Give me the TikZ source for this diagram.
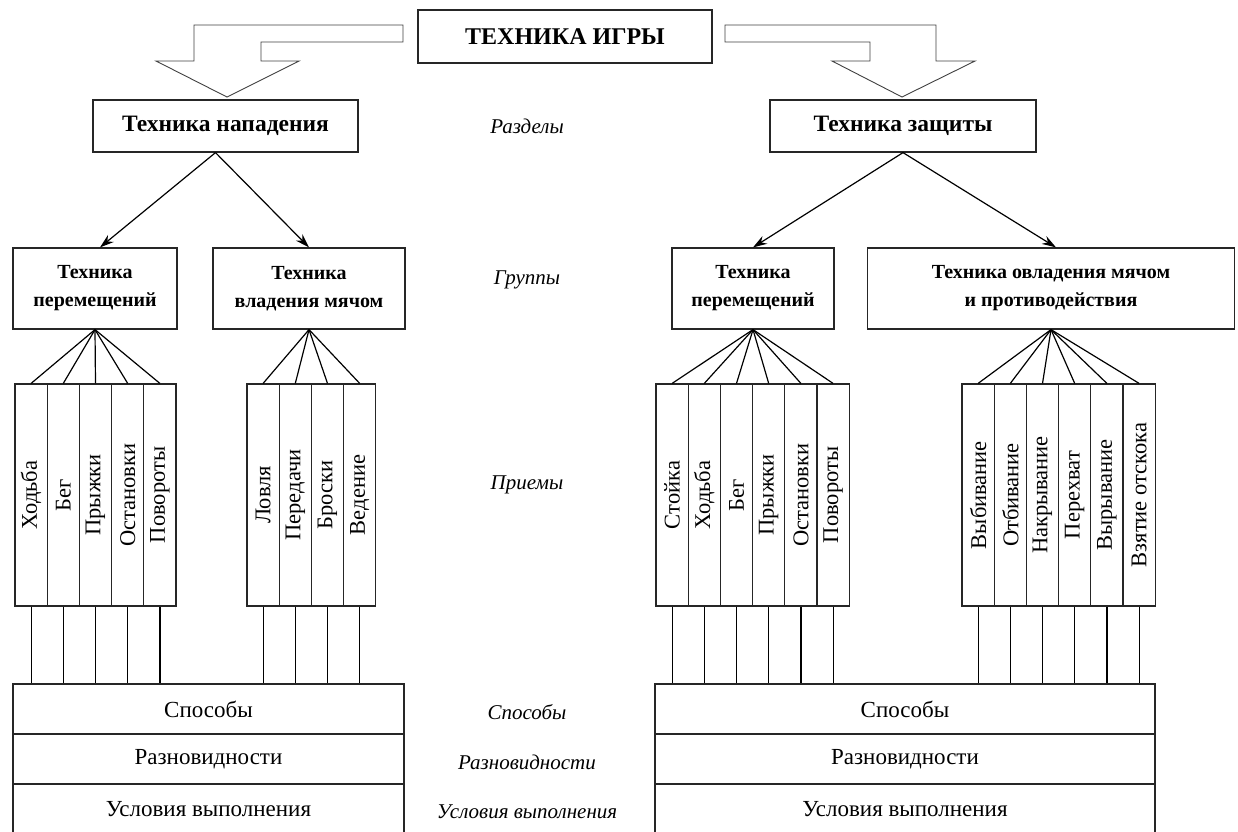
\documentclass[tikz,border=0pt]{standalone}
\usepackage{fontspec}
\setmainfont{Liberation Serif}
\usetikzlibrary{arrows.meta}

\begin{document}
\begin{tikzpicture}[>={Stealth[length=14pt,width=9pt]},x=1pt,y=-1pt,line width=1.2pt,
	box/.style={draw=black!85,fill=white,inner sep=0pt,align=center},
	razd/.style={box,minimum height=52pt,font=\bfseries\fontsize{23.5}{27}\selectfont},
	grp/.style={box,minimum height=81pt,font=\bfseries\fontsize{20}{28}\selectfont},
	col/.style={box,rotate=90,minimum width=222pt,minimum height=32.2pt,font=\fontsize{22.5}{26}\selectfont},
	row/.style={box,minimum height=50pt,font=\fontsize{23}{27}\selectfont},
	lev/.style={font=\itshape\fontsize{21}{25}\selectfont},
	hollow/.style={draw=black!75,line width=0.9pt,fill=white}]
	\useasboundingbox (0,0) rectangle (1238,831);
	\clip (0,0) rectangle (1238,831);
	%Заголовок и полые стрелки:
	\node[box,minimum width=294pt,minimum height=53pt,font=\bfseries\fontsize{24}{28}\selectfont] (title) at (565,36.5) {ТЕХНИКА ИГРЫ};
	\draw[hollow] (403,25) -- (194,25) -- (194,61) -- (156,61) -- (227,97) -- (299,61) -- (261,61) -- (261,42) -- (403,42) -- cycle;
	\draw[hollow] (725,25) -- (936,25) -- (936,61) -- (975,61) -- (902,97) -- (832,61) -- (870,61) -- (870,42) -- (725,42) -- cycle;
	%Разделы:
	\node[razd,minimum width=265pt] (nap) at (225.5,126) {Техника нападения};
	\node[razd,minimum width=266pt] (zash) at (903,126) {Техника защиты};
	%Группы:
	\node[grp,minimum width=164pt] (g1) at (95,288.5) {Техника\\перемещений};
	\node[grp,minimum width=192pt] (g2) at (309,288.5) {Техника\\владения мячом};
	\node[grp,minimum width=162pt] (g3) at (753,288.5) {Техника\\перемещений};
	\node[grp,minimum width=367pt] (g4) at (1051,288.5) {Техника овладения мячом\\и противодействия};
	\draw[->] ([xshift=-10pt]nap.south) -- ([xshift=5pt]g1.north);
	\draw[->] ([xshift=-10pt]nap.south) -- (g2.north);
	\draw[->] (zash.south) -- (g3.north);
	\draw[->] (zash.south) -- ([xshift=5pt]g4.north);
	%Уровни:
	\node[lev] (lrazd) at (527,126) {Разделы};
	\node[lev] (lgrp) at (527,280) {Группы};
	\node[lev] (lpr) at (527,485) {Приемы};
	\node[lev] (lsp) at (527,712) {Способы};
	\node[lev] (lrz) at (527,762) {Разновидности};
	\node[lev] (lus) at (527,812) {Условия выполнения};
	%Способы, разновидности, условия:
	\node[row,minimum width=391pt] (sp1) at (208.5,709) {Способы};
	\node[row,minimum width=391pt] (rz1) at (208.5,759) {Разновидности};
	\node[row,minimum width=391pt] (us1) at (208.5,809) {Условия выполнения};
	\node[row,minimum width=500pt] (sp2) at (905,709) {Способы};
	\node[row,minimum width=500pt] (rz2) at (905,759) {Разновидности};
	\node[row,minimum width=500pt] (us2) at (905,809) {Условия выполнения};
	%Приемы:
	\foreach \t [count=\i] in {Ходьба,Бег,Прыжки,Остановки,Повороты}{
		\node[col] (a\i) at ({31.1+32.2*(\i-1)},495) {\t};
		\draw (g1.south) -- (a\i.east);
		\draw (a\i.west) -- (a\i.west |- sp1.north);
	}
	\foreach \t [count=\i] in {Ловля,Передачи,Броски,Ведение}{
		\node[col] (b\i) at ({263.1+32.2*(\i-1)},495) {\t};
		\draw (g2.south) -- (b\i.east);
		\draw (b\i.west) -- (b\i.west |- sp1.north);
	}
	\foreach \t [count=\i] in {Стойка,Ходьба,Бег,Прыжки,Остановки,Повороты}{
		\node[col] (c\i) at ({672.1+32.2*(\i-1)},495) {\t};
		\draw (g3.south) -- (c\i.east);
		\draw (c\i.west) -- (c\i.west |- sp2.north);
	}
	\foreach \t [count=\i] in {Выбивание,Отбивание,Накрывание,Перехват,Вырывание,Взятие отскока}{
		\node[col] (d\i) at ({978.1+32.2*(\i-1)},495) {\t};
		\draw (g4.south) -- (d\i.east);
		\draw (d\i.west) -- (d\i.west |- sp2.north);
	}
\end{tikzpicture}
\end{document}
